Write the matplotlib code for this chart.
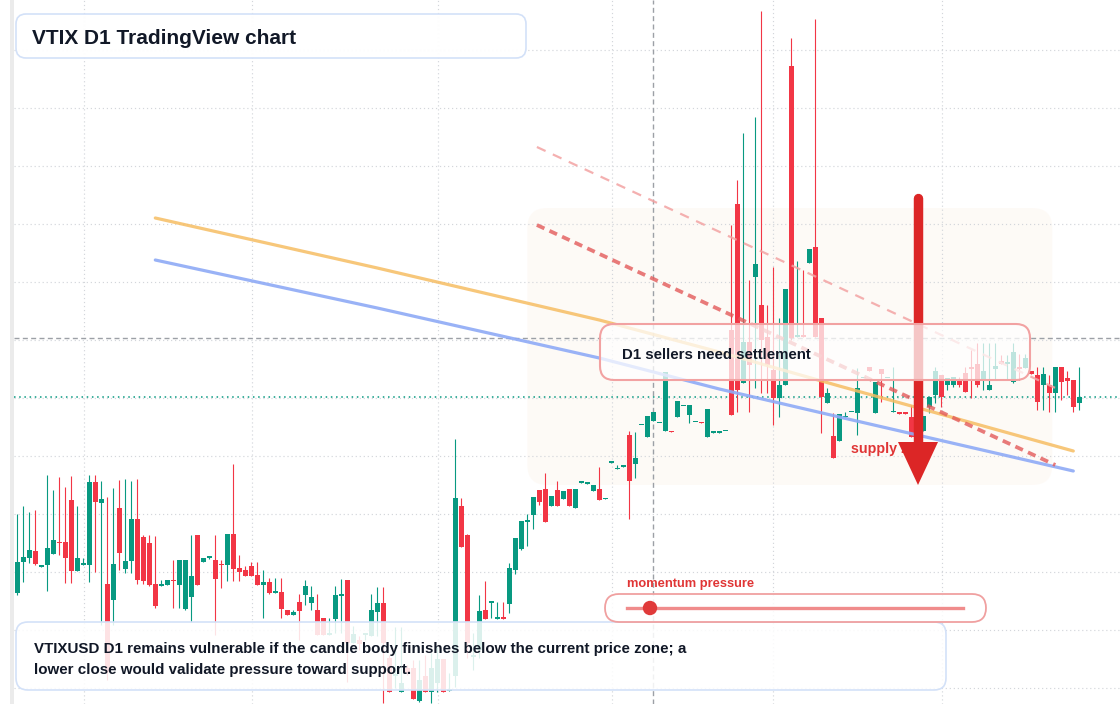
import numpy as np
import matplotlib
matplotlib.use("Agg")
import matplotlib.pyplot as plt
from matplotlib.patches import FancyBboxPatch, Rectangle, Polygon, Circle
from matplotlib.lines import Line2D
from matplotlib.transforms import Affine2D

# daily candles, oldest first
opens = [
    1.11, 1.42, 1.46, 1.53, 1.375, 1.39, 1.50, 1.62, 1.62, 2.04,
    1.33, 1.395, 1.39, 2.22, 2.01, 1.20, 1.04, 1.96, 1.35, 1.43,
    1.85, 1.67, 1.61, 1.20, 1.18, 1.19, 1.24, 1.19, 0.95, 1.07,
    1.69, 1.42, 1.465, 1.44, 1.40, 1.39, 1.70, 1.36, 1.34, 1.38,
    1.29, 1.19, 1.22, 1.115, 1.12, 0.94, 0.89, 1.02, 1.09, 1.01,
    0.94, 0.86, 0.695, 0.85, 1.085, 1.24, 0.61, 0.64, 0.695, 0.68,
    0.92, 1.01, 0.46, 0.285, 0.12, 0.36, 0.36, 0.03, 0.28, 0.12,
    0.21, 0.45, 0.135, 0.28, 1.98, 1.69, 0.475, 0.54, 0.94, 1.015,
    0.855, 0.86, 1.00, 1.34, 1.55, 1.825, 1.89, 2.14, 2.15, 1.98,
    2.14, 2.05, 2.15, 1.96, 2.215, 2.205, 2.13, 2.15, 2.05, 2.415,
    2.345, 2.375, 2.69, 2.40, 2.785, 2.67, 2.83, 2.805, 2.73, 2.73,
    2.87, 2.975, 2.89, 2.815, 2.82, 2.67, 2.715, 2.715, 2.725, 3.74,
    5.00, 3.21, 3.62, 4.27, 3.99, 3.67, 3.34, 3.06, 3.19, 6.38,
    3.67, 3.69, 4.41, 4.57, 3.86, 3.01, 2.68, 2.63, 2.87, 2.915,
    2.91, 3.255, 3.37, 2.91, 3.35, 3.255, 2.915, 2.91, 2.91, 2.87,
    2.74, 2.73, 2.97, 3.09, 3.29, 3.19, 3.19, 3.23, 3.31, 3.37,
    3.40, 3.24, 3.14, 3.35, 3.43, 3.40, 3.22, 3.37, 3.36, 3.33,
    3.29, 3.19, 3.19, 3.11, 3.37, 3.26, 3.24, 3.01,
]
highs = [
    1.90, 1.98, 1.92, 1.94, 1.385, 2.29, 2.14, 2.27, 2.17, 2.28,
    1.98, 1.46, 2.29, 2.29, 2.23, 2.07, 2.16, 2.24, 2.25, 2.23,
    2.25, 1.69, 1.69, 1.68, 1.24, 1.24, 1.44, 1.44, 1.44, 1.69,
    1.69, 1.46, 1.48, 1.69, 1.44, 1.70, 2.40, 1.49, 1.38, 1.42,
    1.42, 1.34, 1.26, 1.26, 1.26, 0.94, 0.94, 1.10, 1.24, 1.18,
    1.10, 0.86, 0.86, 1.18, 1.25, 1.24, 0.78, 0.68, 0.70, 1.10,
    1.17, 1.17, 0.49, 0.77, 0.77, 0.39, 0.44, 0.44, 0.49, 0.51,
    0.57, 0.45, 0.31, 2.65, 2.06, 1.70, 0.71, 1.09, 1.23, 1.02,
    1.02, 1.02, 1.41, 1.66, 1.83, 1.90, 2.07, 2.14, 2.31, 2.08,
    2.23, 2.13, 2.15, 2.15, 2.22, 2.21, 2.19, 2.37, 2.055, 2.42,
    2.39, 2.38, 2.73, 2.72, 2.79, 2.88, 2.92, 2.81, 3.32, 2.73,
    3.03, 2.98, 2.99, 2.82, 2.82, 2.95, 2.72, 2.72, 2.73, 4.79,
    5.24, 5.71, 4.24, 5.87, 6.93, 3.99, 4.37, 3.86, 4.15, 6.66,
    4.43, 4.34, 4.55, 6.85, 3.86, 3.16, 2.91, 2.90, 2.92, 2.92,
    3.36, 3.26, 3.37, 3.22, 3.35, 3.26, 3.37, 2.91, 2.91, 2.99,
    2.94, 2.88, 3.07, 3.37, 3.29, 3.26, 3.27, 3.27, 3.37, 3.54,
    3.61, 3.61, 3.61, 3.61, 3.49, 3.49, 3.61, 3.50, 3.50, 3.33,
    3.37, 3.37, 3.29, 3.37, 3.37, 3.33, 3.24, 3.37,
]
lows = [
    1.09, 1.22, 1.41, 1.39, 1.375, 1.13, 1.50, 1.49, 1.21, 1.21,
    1.33, 1.395, 1.22, 1.32, 0.79, 0.24, 0.79, 1.34, 1.31, 1.31,
    1.20, 1.20, 1.18, 0.96, 1.18, 1.19, 0.96, 0.96, 0.94, 0.82,
    1.19, 1.42, 1.45, 0.69, 1.16, 1.23, 1.23, 1.23, 1.28, 1.28,
    1.19, 0.86, 1.10, 1.115, 0.86, 0.89, 0.89, 0.64, 0.99, 0.94,
    0.69, 0.69, 0.695, 0.71, 0.71, 0.22, 0.61, 0.54, 0.64, 0.68,
    0.68, 0.01, 0.12, 0.16, 0.12, 0.29, 0.05, 0.02, 0.12, 0.01,
    0.12, 0.12, 0.135, 0.17, 1.57, 0.46, 0.34, 0.46, 0.85, 0.86,
    0.855, 0.855, 0.91, 1.30, 1.54, 1.58, 1.75, 1.99, 1.82, 1.98,
    1.98, 2.05, 1.98, 1.96, 2.215, 2.205, 2.13, 2.04, 2.05, 2.415,
    2.345, 2.375, 1.85, 2.26, 2.785, 2.67, 2.83, 2.805, 2.73, 2.72,
    2.87, 2.975, 2.81, 2.815, 2.81, 2.67, 2.715, 2.715, 2.725, 2.89,
    2.92, 3.21, 2.92, 3.16, 3.11, 3.11, 2.79, 2.87, 3.19, 3.64,
    3.67, 3.67, 4.41, 3.67, 2.71, 3.01, 2.46, 2.63, 2.87, 2.915,
    2.69, 3.255, 3.33, 2.91, 3.02, 3.255, 2.915, 2.905, 2.905, 2.67,
    2.72, 2.73, 2.91, 3.01, 2.97, 3.14, 3.17, 3.17, 3.12, 3.06,
    3.17, 3.14, 3.14, 3.24, 3.40, 3.24, 3.21, 3.24, 3.36, 3.30,
    2.94, 2.94, 2.92, 2.92, 3.04, 3.09, 2.92, 2.94,
]
closes = [
    1.42, 1.47, 1.54, 1.40, 1.385, 1.56, 1.64, 1.61, 1.46, 1.33,
    1.46, 1.40, 2.22, 2.02, 2.05, 0.32, 1.40, 1.51, 1.43, 1.85,
    1.24, 1.23, 1.19, 0.98, 1.20, 1.24, 1.23, 1.44, 1.44, 1.28,
    1.19, 1.46, 1.47, 1.25, 1.39, 1.70, 1.35, 1.32, 1.28, 1.28,
    1.19, 1.22, 1.11, 1.12, 0.95, 0.89, 0.92, 0.93, 1.18, 1.07,
    0.69, 0.69, 0.70, 1.09, 1.09, 0.61, 0.70, 0.60, 0.70, 0.94,
    1.01, 0.61, 0.12, 0.29, 0.21, 0.31, 0.05, 0.24, 0.12, 0.36,
    0.45, 0.12, 0.14, 2.06, 1.57, 0.61, 0.48, 0.93, 0.85, 1.02,
    0.86, 0.855, 1.36, 1.66, 1.83, 1.83, 2.07, 2.02, 1.82, 2.08,
    1.98, 2.13, 1.98, 2.15, 2.22, 2.21, 2.19, 2.04, 2.055, 2.42,
    2.35, 2.38, 2.23, 2.46, 2.79, 2.88, 2.92, 2.81, 3.32, 2.72,
    3.03, 2.98, 2.99, 2.82, 2.81, 2.95, 2.72, 2.72, 2.73, 2.89,
    3.14, 3.62, 3.39, 4.40, 3.64, 3.39, 3.06, 3.19, 4.15, 3.66,
    3.69, 3.67, 4.55, 3.67, 3.07, 3.11, 2.46, 2.90, 2.88, 2.92,
    3.16, 3.26, 3.33, 3.22, 3.30, 3.26, 2.92, 2.905, 2.905, 2.67,
    2.89, 2.88, 3.07, 3.33, 3.07, 3.26, 3.27, 3.19, 3.12, 3.35,
    3.19, 3.33, 3.19, 3.38, 3.40, 3.42, 3.52, 3.35, 3.46, 3.30,
    3.02, 3.30, 3.11, 3.37, 3.22, 3.23, 2.97, 3.07,
]

# moving averages (candle index, price)
ma_idx = [23, 60, 97, 117, 137, 176]
ma_slow = [4.86, 4.36, 3.84, 3.52, 3.18, 2.53]
ma_fast = [4.44, 3.96, 3.46, 3.15, 2.87, 2.33]

# falling trend channel
trend_idx = [86.6, 173.0]
trend_upper = [5.57, 3.16]
trend_lower = [4.79, 2.39]

# supply zone box and crosshair
zone_idx = (85.0, 172.5)
zone_price = (2.19, 4.96)
cross_idx = 106
cross_price = 3.66
month_lines = [11.1, 39.1, 70.1, 99.1, 125.9, 154.1]

title = "VTIX D1 TradingView chart"
note_lines = ["VTIXUSD D1 remains vulnerable if the candle body finishes below the current price zone; a",
              "lower close would validate pressure toward support."]

GREEN = "#089981"
RED = "#f23645"
W, H = 1120, 704

plt.rcParams['font.family'] = ['Liberation Sans', 'DejaVu Sans']

fig = plt.figure(figsize=(W / 100, H / 100), dpi=100)
fig.patch.set_facecolor("white")
ax = fig.add_axes([14 / W, 0, (W - 14) / W, 1])
ax.set_xlim((14 - 17.3) / 6, (W - 17.3) / 6)
ax.set_ylim(0, 7.04)
for s in ax.spines.values():
    s.set_visible(False)
ax.set_xticks(month_lines)
ax.set_yticks(np.arange(0.16, 7.0, 0.58))
ax.tick_params(length=0, labelbottom=False, labelleft=False)
ax.set_axisbelow(True)
ax.grid(color="#d3d6db", linestyle=(0, (1, 2.4)), linewidth=0.85)

# pixel space for the annotation layer (y down)
px = Affine2D().scale(1 / W, -1 / H).translate(0, 1) + fig.transFigure

ax.add_patch(Rectangle((10, 0), 4, H, transform=px, fc="#ebebeb", lw=0,
                       clip_on=False, zorder=0.2))

zone = FancyBboxPatch((zone_idx[0], zone_price[0]), zone_idx[1] - zone_idx[0],
                      zone_price[1] - zone_price[0],
                      boxstyle="round,pad=0,rounding_size=3.3", mutation_aspect=0.06,
                      fc="#fdf6ef", alpha=0.5, lw=0, zorder=0.3)
ax.add_patch(zone)

ax.axvline(cross_idx, color="#9ca0a6", linestyle=(0, (3.6, 2.4)), lw=1.0, zorder=1)
ax.axhline(cross_price, color="#9ca0a6", linestyle=(0, (3.6, 2.4)), lw=1.0, zorder=1)
ax.axhline(closes[-1], color=GREEN, linestyle=(0, (1, 2.4)), lw=1.1, zorder=1)

# candles
o = np.array(opens)
h = np.array(highs)
l = np.array(lows)
c = np.array(closes)
x = np.arange(len(o))
cols = np.where(c >= o, GREEN, RED)
ax.vlines(x, l, h, colors=cols, lw=0.8, zorder=2)
ax.bar(x, np.maximum(np.abs(c - o), 0.013), 0.8, np.minimum(o, c),
       color=cols, lw=0, zorder=2.1)

ax.plot(ma_idx, ma_slow, color="#f6bd63", lw=2.3, alpha=0.85, zorder=3,
        solid_capstyle="round")
ax.plot(ma_idx, ma_fast, color="#8eaaf6", lw=2.3, alpha=0.9, zorder=3,
        solid_capstyle="round")
ax.plot(trend_idx, trend_upper, color="#f3a3a3", lw=1.6, alpha=0.85,
        dashes=(4.3, 3.6), zorder=3.1)
ax.plot(trend_idx, trend_lower, color="#e35a5a", lw=2.7, alpha=0.8,
        dashes=(2.2, 1.5), zorder=3.1)

# arrow and zone label
ax.text(851, 453, "supply zone", transform=px, color="#e03535", fontsize=10.3,
        fontweight="bold", va="baseline", zorder=3.9)
ax.add_line(Line2D([918, 918], [198, 446], transform=px, color="#dc2626", lw=6.8,
                   solid_capstyle="round", zorder=4))
ax.add_patch(Polygon([(898, 442), (938, 442), (918, 485)], closed=True, transform=px,
                     fc="#dc2626", lw=0, zorder=4, clip_on=False))


def card(x0, y0, x1, y1, r, fc, ec, lw=1.2):
    p = FancyBboxPatch((x0, y0), x1 - x0, y1 - y0,
                       boxstyle="round,pad=0,rounding_size=%s" % r,
                       transform=px, fc=fc, ec=ec, lw=lw, zorder=5, clip_on=False)
    ax.add_patch(p)


card(16, 14, 526, 58, 10, (1, 1, 1, 0.97), "#d3e1f8")
ax.text(32, 44, title, transform=px, fontsize=15, fontweight="bold",
        color="#111827", va="baseline", zorder=6)

card(600, 324, 1030, 380, 14, (1, 1, 1, 0.74), "#f2a2a2", lw=1.5)
ax.text(622, 359, "D1 sellers need settlement", transform=px, fontsize=10.8,
        fontweight="bold", color="#111827", va="baseline", zorder=6)

card(16, 622, 946, 690, 12, (1, 1, 1, 0.86), "#d3e1f8")
for k, line in enumerate(note_lines):
    ax.text(34, 653.5 + 20.5 * k, line, transform=px, fontsize=10.9,
            fontweight="bold", color="#111827", va="baseline", zorder=6)

ax.text(627, 587, "momentum pressure", transform=px, fontsize=9.3,
        fontweight="bold", color="#e03535", va="baseline", zorder=6)
card(605, 594, 986, 622, 14, (1, 1, 1, 0.85), "#f0a0a0", lw=1.3)
ax.add_line(Line2D([627, 963], [608, 608], transform=px, color="#f08c8c", lw=2.4,
                   zorder=6))
ax.add_patch(Circle((650, 608), 7.2, transform=px, fc="#e03a3a", lw=0, zorder=6.5,
                    clip_on=False))

fig.savefig("out.png", dpi=100, facecolor="white")
